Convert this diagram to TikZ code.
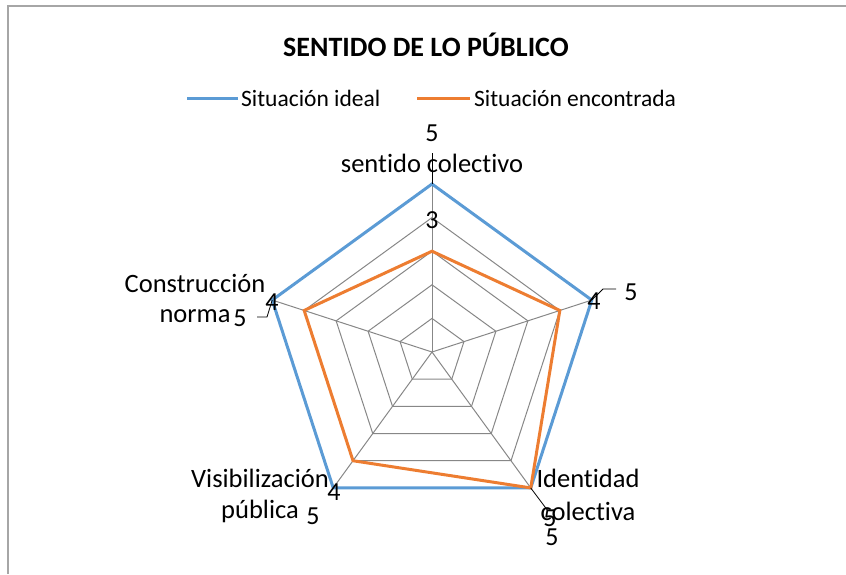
\documentclass[tikz,border=0pt]{standalone}
\usepackage{fontspec}
\setmainfont{Carlito}[Ligatures=NoCommon]
\definecolor{idealc}{HTML}{5B9BD5}
\definecolor{foundc}{HTML}{ED7D31}
\definecolor{gridc}{HTML}{878787}
\definecolor{framec}{HTML}{A6A6A6}
\begin{document}
\begin{tikzpicture}[x=1pt,y=-1pt,
  frameline/.style={framec,line width=1.5pt},
  gridline/.style={gridc,line width=1pt},
  idealline/.style={idealc,line width=3pt,line join=miter},
  foundline/.style={foundc,line width=3pt,line join=miter},
  leader/.style={black,line width=0.8pt},
  lbl/.style={inner sep=0pt,font=\fontsize{26.5}{31}\selectfont},
  num/.style={inner sep=0pt,font=\fontsize{26}{31}\selectfont},
  legtext/.style={inner sep=0pt,anchor=west,font=\fontsize{23.5}{28}\selectfont},
  titletext/.style={inner sep=0pt,font=\bfseries\fontsize{28}{34}\selectfont}]
\useasboundingbox (0,0) rectangle (846,574);
% frame
\draw[frameline] (8,574) -- (8,6) -- (846,6);
% title and legend
\node[titletext] (title) at (426,45) {SENTIDO DE LO PÚBLICO};
\coordinate (lb1) at (187,98); \coordinate (lb2) at (238,98);
\draw[idealline] (lb1) -- (lb2);
\node[legtext] (leg1) at (241,98) {Situación ideal};
\coordinate (lo1) at (417,98); \coordinate (lo2) at (470,98);
\draw[foundline] (lo1) -- (lo2);
\node[legtext] (leg2) at (474,98) {Situación encontrada};
% radar
\begin{scope}[shift={(432,352)}]
  \coordinate (c) at (0,0);
  \foreach \r in {1,...,5}
    \draw[gridline] (-90:\r*33.6) -- (-18:\r*33.6) -- (54:\r*33.6) -- (126:\r*33.6) -- (198:\r*33.6) -- cycle;
  \foreach \a/\n in {-90/a,-18/b,54/cc,126/d,198/e}
    \coordinate (v\n) at (\a:168);
  \foreach \n in {a,b,cc,d,e}
    \draw[gridline] (c) -- (v\n);
  \draw[idealline] (va) -- (vb) -- (vcc) -- (vd) -- (ve) -- cycle;
  \coordinate (oa) at (-90:100.8);
  \coordinate (ob) at (-18:134.4);
  \coordinate (oc) at (54:168);
  \coordinate (od) at (126:134.4);
  \coordinate (oe) at (198:134.4);
  \draw[foundline] (oa) -- (ob) -- (oc) -- (od) -- (oe) -- cycle;
\end{scope}
% top axis labels
\node[num] (t5) at (432,133) {5};
\node[lbl] (tl) at (432,163) {sentido colectivo};
\coordinate (tle) at (432,153);
\draw[leader] (tle) -- (va);
\node[num] (t3) at (432,220) {3};
% right
\node[num] (r4) at (594,301) {4};
\coordinate (rk1) at (603,289); \coordinate (rk2) at (616,289);
\draw[leader] (vb) -- (rk1) -- (rk2);
\node[num] (r5) at (631,292) {5};
% left
\node[lbl] (l1) at (195,283) {Construcción};
\node[lbl] (l2) at (195,316) {norma};
\node[num] (l5) at (240,318) {5};
\coordinate (lk1) at (257,317); \coordinate (lk2) at (267,317);
\draw[leader] (lk1) -- (lk2) -- (ve);
\node[num] (l4) at (272,302) {4};
% bottom left
\node[lbl] (bl1) at (260,478) {Visibilización};
\node[lbl] (bl2) at (260,511) {pública};
\node[num] (bl4) at (334,492) {4};
\node[num] (bl5) at (313,516) {5};
% bottom right
\node[lbl] (br1) at (588,478) {Identidad};
\node[lbl] (br2) at (588,511) {colectiva};
\coordinate (bk) at (548,511);
\draw[leader] (vcc) -- (bk);
\node[num] (br5a) at (550,518) {5};
\node[num] (br5b) at (552,537) {5};
\end{tikzpicture}
\end{document}
